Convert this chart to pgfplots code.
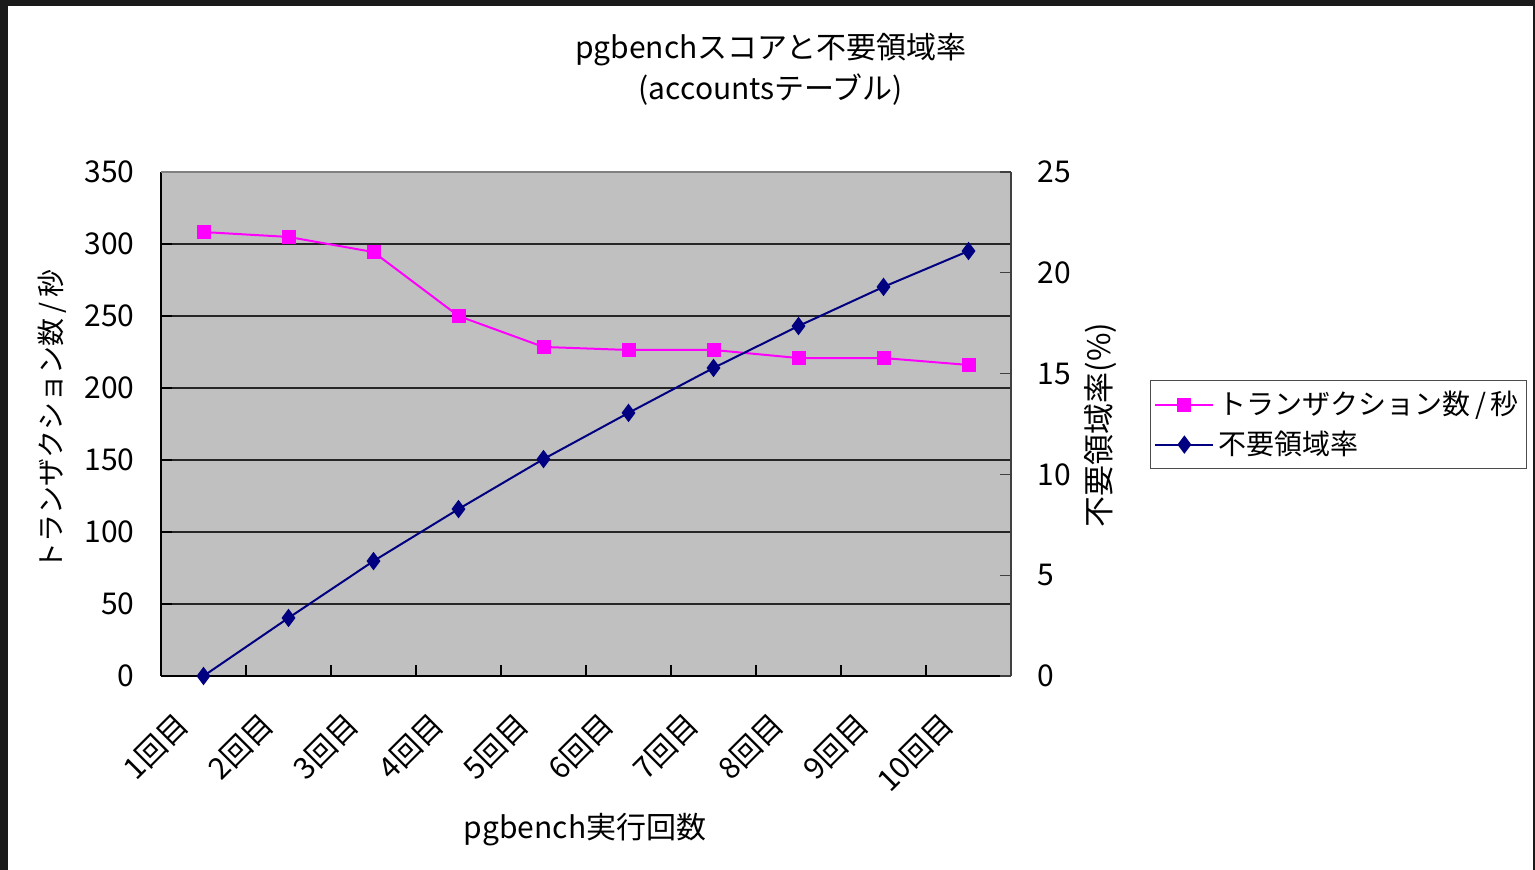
\documentclass[border=0pt]{standalone}
\usepackage{fontspec}
\setmainfont{Noto Sans CJK JP}
\usepackage{pgfplots}
\pgfplotsset{compat=1.18}
\definecolor{plotbg}{HTML}{C0C0C0}
\definecolor{pinkline}{HTML}{FF00FF}
\definecolor{navyline}{HTML}{000080}
\definecolor{frame}{HTML}{1A1A1A}
\begin{document}
\fontsize{15}{20.5}\selectfont
\begin{tikzpicture}
\useasboundingbox (0,0) rectangle (767.5pt,435pt);
\fill[frame] (0,0) rectangle (767.5pt,435pt);
\fill[white] (4pt,0) rectangle (766.5pt,432.2pt);
\begin{axis}[
  at={(80.5pt,97pt)}, anchor=south west,
  scale only axis, width=425pt, height=252pt,
  xmin=0.5, xmax=10.5, ymin=0, ymax=350,
  axis x line*=bottom, axis y line*=left,
  axis line style={black, line width=0.8pt},
  axis background/.style={fill=plotbg},
  xtick={0.5,1.5,...,10.5}, xticklabels={},
  extra x ticks={1,2,...,10},
  extra x tick labels={1回目,2回目,3回目,4回目,5回目,6回目,7回目,8回目,9回目,10回目},
  extra x tick style={tick style={draw=none}, tick label style={rotate=45, anchor=north east, xshift=-17.25pt, yshift=3.5pt}},
  ytick={0,50,...,350},
  tick align=inside, major tick length=5.5pt,
  tick style={black, line width=0.6pt},
  ymajorgrids, grid style={black!85, line width=0.7pt},
  /pgf/number format/assume math mode=true,
  tick label style={font=\fontsize{15}{18}\selectfont},
  yticklabel style={xshift=-8pt},
  ylabel={トランザクション数\,/\,秒},
  ylabel style={at={(axis description cs:-0.128,0.508)}, anchor=center, font=\fontsize{14}{17}\selectfont},
  xlabel={pgbench実行回数},
  xlabel style={at={(axis description cs:0.499,-0.3056)}, anchor=center, font=\fontsize{15}{18}\selectfont},
  title={pgbenchスコアと不要領域率\\(accountsテーブル)},
  title style={at={(axis description cs:0.7176,1.18)}, anchor=center, align=center, font=\fontsize{15}{20.5}\selectfont},
  clip=false,
]
\draw[gray, line width=0.8pt] (rel axis cs:0,1) -- (rel axis cs:1,1);
\addplot[pinkline, line width=1pt, mark=square*, mark size=3pt, mark options={fill=pinkline, draw=pinkline}]
  coordinates {(1,308.3) (2,304.9) (3,294.4) (4,250.0) (5,228.5) (6,226.4) (7,226.4) (8,220.8) (9,220.8) (10,216.0)};
\end{axis}
\begin{axis}[
  at={(80.5pt,97pt)}, anchor=south west,
  scale only axis, width=425pt, height=252pt,
  xmin=0.5, xmax=10.5, ymin=0, ymax=25,
  axis x line=none, axis y line*=right,
  axis line style={black!75, line width=0.8pt},
  ytick={0,5,...,25},
  tick align=inside, major tick length=5.5pt,
  tick style={black!75, line width=0.6pt},
  /pgf/number format/assume math mode=true,
  tick label style={font=\fontsize{15}{18}\selectfont},
  yticklabel style={xshift=8pt},
  ylabel={不要領域率(\%)},
  ylabel style={at={(axis description cs:1.105,0.498)}, anchor=center, font=\fontsize{15.5}{18}\selectfont},
  legend style={at={(axis description cs:1.1635,0.587)}, anchor=north west, draw=black!70, fill=white,
    font=\fontsize{14}{17}\selectfont, row sep=2pt, inner xsep=2pt, inner ysep=3pt},
  legend cell align=left,
  legend image code/.code={\draw[#1] (0pt,0pt) -- (29pt,0pt); \draw[#1, mark repeat=1] plot coordinates {(14.5pt,0pt)};},
  clip=false,
]
\addlegendimage{pinkline, line width=1pt, mark=square*, mark size=3pt, mark options={fill=pinkline, draw=pinkline}}
\addlegendentry{トランザクション数\,/\,秒}
\addplot[navyline, line width=1pt, mark=diamond*, mark size=3.8pt, mark options={fill=navyline, draw=navyline}]
  coordinates {(1,0) (2,2.88) (3,5.70) (4,8.28) (5,10.76) (6,13.05) (7,15.28) (8,17.36) (9,19.30) (10,21.08)};
\addlegendentry{不要領域率}
\end{axis}
\end{tikzpicture}
\end{document}
